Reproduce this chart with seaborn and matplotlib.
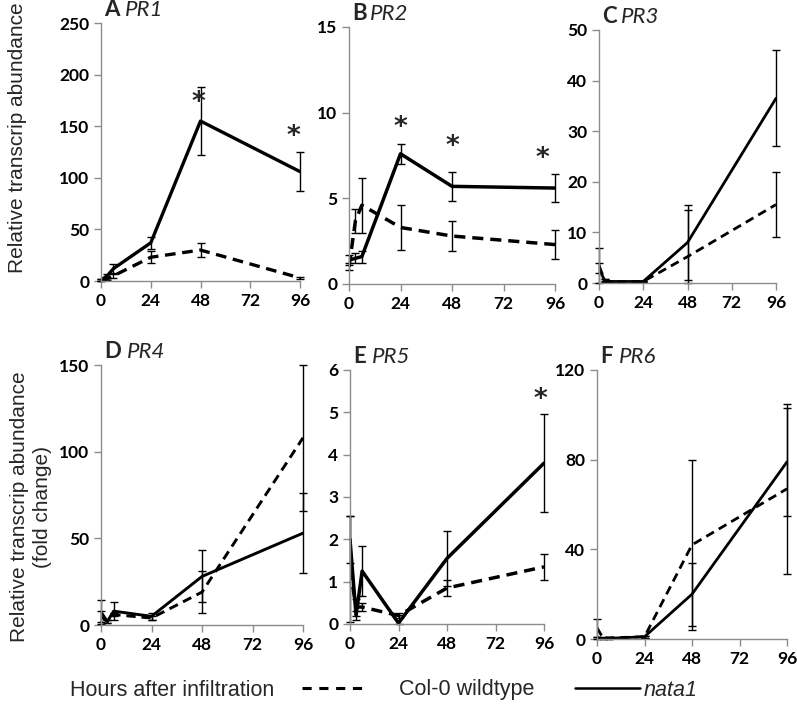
import matplotlib.pyplot as plt
import numpy as np
import pandas as pd
import seaborn as sns

# sampling times (hours after infiltration)
hours = [0, 3, 6, 24, 48, 96]

# A  PR1
pr1_wt = [1, 2, 5, 23, 30, 3]
pr1_wt_err = [1, 1, 2, 6, 6.5, 1]
pr1_nata = [1, 5, 12, 37, 155, 106]
pr1_nata_err = [1, 2, 4, 6, 33, 19]

# B  PR2
pr2_wt = [1.0, 3.7, 4.6, 3.3, 2.8, 2.3]
pr2_wt_err = [0.2, 0.7, 1.6, 1.3, 0.9, 0.85]
pr2_nata = [1.4, 1.5, 1.6, 7.6, 5.7, 5.6]
pr2_nata_err = [0.3, 0.3, 0.35, 0.6, 0.85, 0.8]

# C  PR3
pr3_wt = [3.5, 0.5, 0.3, 0.3, 5.2, 15.5]
pr3_wt_err = [3.5, 0.3, 0.1, 0.1, 9.3, 6.4]
pr3_nata = [3, 0.5, 0.3, 0.3, 8, 36.5]
pr3_nata_err = [1, 0.2, 0.1, 0.1, 7.5, 9.5]

# D  PR4
pr4_wt = [5, 2, 6, 4, 19, 108]
pr4_wt_err = [3, 1, 1, 1, 12, 42]
pr4_nata = [7.5, 2, 8, 5, 28, 53]
pr4_nata_err = [7, 1, 5, 2, 15, 23]

# E  PR5
pr5_wt = [1.3, 0.4, 0.4, 0.2, 0.85, 1.35]
pr5_wt_err = [1.25, 0.2, 0.1, 0.05, 0.2, 0.3]
pr5_nata = [2.0, 0.2, 1.25, 0.02, 1.55, 3.8]
pr5_nata_err = [0.55, 0.1, 0.6, 0.2, 0.65, 1.15]

# F  PR6
pr6_wt = [5, 0.5, 0.5, 1, 42, 67]
pr6_wt_err = [4, 0.3, 0.3, 0.5, 38, 38]
pr6_nata = [0.5, 0.3, 0.3, 1, 20, 79]
pr6_nata_err = [0.3, 0.1, 0.1, 0.5, 14, 24]

letters = ['A', 'B', 'C', 'D', 'E', 'F']
genes = ['PR1', 'PR2', 'PR3', 'PR4', 'PR5', 'PR6']
y_max = [250, 15, 50, 150, 6, 120]
y_step = [50, 5, 10, 50, 1, 40]

# significance stars (hour, height)
star_hours = [[47, 93], [24, 48, 90], [], [], [94], []]
star_heights = [[172, 140], [9.1, 8.0, 7.3], [], [], [5.3], []]

wt_all = [pr1_wt, pr2_wt, pr3_wt, pr4_wt, pr5_wt, pr6_wt]
wt_err_all = [pr1_wt_err, pr2_wt_err, pr3_wt_err, pr4_wt_err, pr5_wt_err, pr6_wt_err]
nata_all = [pr1_nata, pr2_nata, pr3_nata, pr4_nata, pr5_nata, pr6_nata]
nata_err_all = [pr1_nata_err, pr2_nata_err, pr3_nata_err, pr4_nata_err, pr5_nata_err, pr6_nata_err]

sns.set_style('ticks')
plt.rcParams['font.family'] = ['Lato', 'DejaVu Sans']

W, H = 797, 708
fig = plt.figure(figsize=(W / 100, H / 100), dpi=100)

# panel boxes in pixels: left, top, right, bottom
boxes = [(101, 23, 300, 281), (349, 27, 555, 284), (599, 30, 776, 283),
         (101, 365, 303, 625), (350, 370, 544, 624), (597, 370, 787, 639)]
line_w = [2.4, 2.5, 2.0, 2.1, 2.5, 2.0]
gene_gap = [17, 15, 16, 19, 16, 16]  # points from letter to gene name
grey = '#8c8c8c'

for i in range(6):
    l, t, r, b = boxes[i]
    ax = fig.add_axes([l / W, 1 - b / H, (r - l) / W, (b - t) / H])

    df = pd.DataFrame({
        'hours': hours * 2,
        'value': wt_all[i] + nata_all[i],
        'genotype': ['Col-0 wildtype'] * len(hours) + ['nata1'] * len(hours),
    })
    sns.lineplot(data=df, x='hours', y='value', style='genotype',
                 dashes={'Col-0 wildtype': (3.2, 2.0), 'nata1': ''},
                 color='black', lw=line_w[i], legend=False, ax=ax, errorbar=None)

    for vals, errs in [(wt_all[i], wt_err_all[i]), (nata_all[i], nata_err_all[i])]:
        vals = np.array(vals, dtype=float)
        errs = np.array(errs, dtype=float)
        lower = np.minimum(errs, vals)  # bars stop at the x axis
        eb = ax.errorbar(hours, vals, yerr=[lower, errs], fmt='none', ecolor='black',
                         elinewidth=1, capsize=3, capthick=1)
        for art in eb.get_children():
            art.set_clip_on(False)

    for sx, sy in zip(star_hours[i], star_heights[i]):
        ax.text(sx, sy, '*', ha='center', va='center', fontsize=19,
                fontweight='bold', family='DejaVu Sans')

    ax.set_xlim(0, 96)
    ax.set_ylim(0, y_max[i])
    ax.set_xticks([0, 24, 48, 72, 96])
    ax.set_yticks(np.arange(0, y_max[i] + y_step[i] / 2, y_step[i]))
    ax.set_xlabel('')
    ax.set_ylabel('')
    sns.despine(ax=ax)
    for side in ['left', 'bottom']:
        ax.spines[side].set_color(grey)
        ax.spines[side].set_linewidth(1.0)
    ax.tick_params(colors=grey, labelcolor='black', length=5, width=1, labelsize=12.5)
    plt.setp(ax.get_xticklabels() + ax.get_yticklabels(), fontweight='bold')

    ax.annotate(letters[i], xy=(0, 1), xycoords='axes fraction', xytext=(2, 2),
                textcoords='offset points', ha='left', va='bottom',
                fontsize=16, fontweight='bold')
    ax.annotate(genes[i], xy=(0, 1), xycoords='axes fraction', xytext=(gene_gap[i], 2),
                textcoords='offset points', ha='left', va='bottom',
                fontsize=16, style='italic')

# y axis labels
fig.text(18 / W, 1 - 138 / H, 'Relative transcrip abundance', rotation=90,
         ha='center', va='center', fontsize=15, family='Liberation Sans')
fig.text(31 / W, 1 - 507 / H, 'Relative transcrip abundance\n(fold change)', rotation=90,
         ha='center', va='center', fontsize=15, family='Liberation Sans',
         multialignment='center', linespacing=1.3)

# bottom key
key_y = 1 - 690 / H
fig.text(70 / W, key_y, 'Hours after infiltration', ha='left', va='center',
         fontsize=15.5, family='Liberation Sans')
dash_handle = plt.Line2D([], [], color='black', lw=2.2, dashes=(3, 2.5))
solid_handle = plt.Line2D([], [], color='black', lw=1.8)
leg1 = fig.legend([dash_handle], ['Col-0 wildtype'], loc='center left',
                  bbox_to_anchor=(302 / W, key_y), frameon=False, borderpad=0,
                  borderaxespad=0, handlelength=2.9, handletextpad=1.6,
                  prop={'family': 'Liberation Sans', 'size': 15.5})
leg2 = fig.legend([solid_handle], ['nata1'], loc='center left',
                  bbox_to_anchor=(575 / W, key_y), frameon=False, borderpad=0,
                  borderaxespad=0, handlelength=3.0, handletextpad=0.2,
                  prop={'family': 'Liberation Sans', 'size': 15.5, 'style': 'italic'})

fig.savefig('out.png', dpi=100)
